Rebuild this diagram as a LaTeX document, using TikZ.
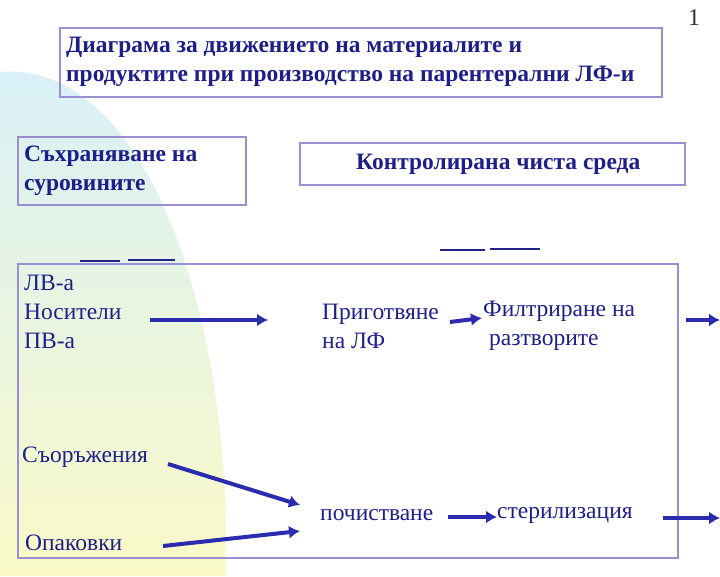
\documentclass[tikz,border=0pt]{standalone}
\usepackage{fontspec}
\setmainfont{Liberation Serif}
\usetikzlibrary{arrows.meta}
\definecolor{navy}{HTML}{1E1E8A}
\definecolor{frame}{HTML}{9A8FD2}
\definecolor{arr}{HTML}{2B2BB0}
\definecolor{bgtop}{HTML}{D8F0F8}
\definecolor{bgbot}{HTML}{FAFAC8}
\begin{document}
\begin{tikzpicture}[x=1pt,y=-1pt,
  txt/.style={font=\fontsize{23.5}{29}\selectfont,text=navy,anchor=west,align=left,inner sep=0pt},
  btxt/.style={txt,font=\fontsize{23.5}{29}\selectfont\bfseries},
  bx/.style={draw=frame,line width=1.4pt},
  ar/.style={draw=arr,line width=4pt,-{Latex[length=11pt,width=13pt]}},
  dl/.style={draw=arr!80!black,line width=1.5pt}]
\useasboundingbox (0,0) rectangle (720,576);
\shade[top color=bgtop,bottom color=bgbot,draw=none] (0,72) .. controls (140,60) and (232,300) .. (226,576) -- (0,576) -- cycle;
\draw[bx] (60,28) rectangle (662,97);
\node[btxt] (title) at (66,62) {Диаграма за движението на материалите и\\продуктите при производство на парентерални ЛФ-и};
\node[txt,font=\fontsize{24}{24}\selectfont,text=black!80] (num) at (688,18) {1};
\draw[bx] (18,137) rectangle (246,205);
\node[btxt] (store) at (24,171) {Съхраняване на\\суровините};
\draw[bx] (300,143) rectangle (685,185);
\node[btxt] (clean) at (356,164) {Контролирана чиста среда};
\draw[dl] (80,261) -- (120,261); \draw[dl] (128,260) -- (175,260);
\draw[dl] (440,250) -- (485,250); \draw[dl] (490,249) -- (540,249);
\draw[bx] (18,264) rectangle (678,558);
\node[txt] (mat) at (24,312) {ЛВ-а\\Носители\\ПВ-а};
\node[txt] (prep) at (322,326) {Приготвяне\\на ЛФ};
\node[txt] (filt) at (483,326) {Филтриране на\\\hspace*{6pt}разтворите};
\node[txt] (equip) at (22,457) {Съоръжения};
\node[txt] (pack) at (25,543) {Опаковки};
\node[txt] (wash) at (320,515) {почистване};
\node[txt] (ster) at (497,515) {стерилизация};
\coordinate (e1) at (720,320);
\coordinate (e2) at (720,518);
\draw[ar] (150,320) -- (268,320);
\draw[ar] (450,322) -- (482,318);
\draw[ar] (686,320) -- (e1);
\draw[ar] (168,464) -- (300,505);
\draw[ar] (163,546) -- (300,531);
\draw[ar] (448,517) -- (497,517);
\draw[ar] (663,518) -- (e2);
\end{tikzpicture}
\end{document}
